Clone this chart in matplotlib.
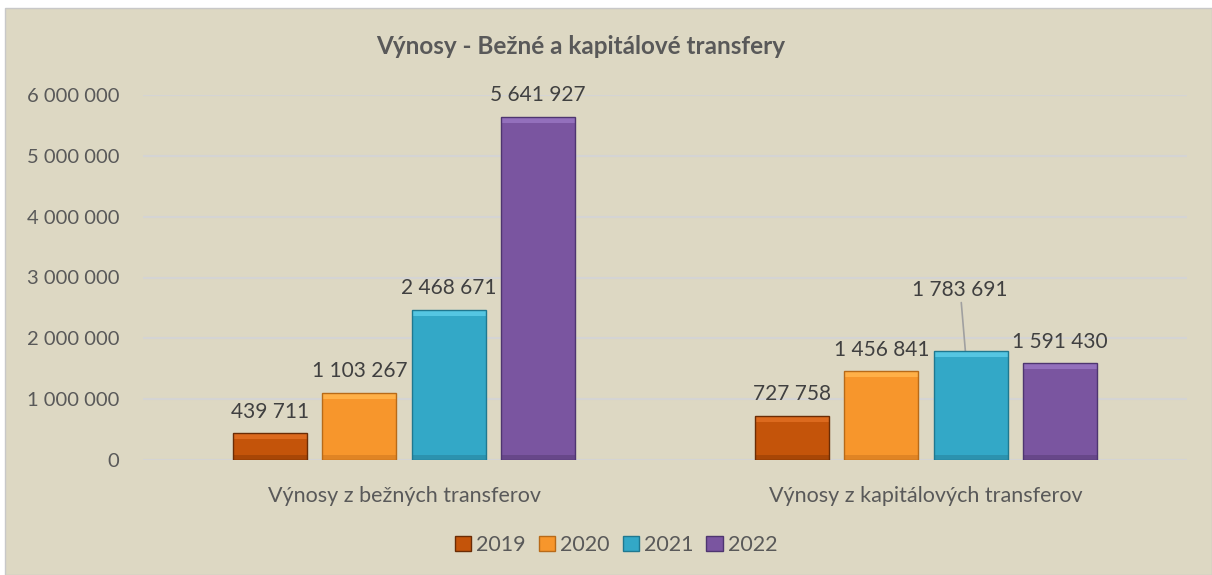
import matplotlib
matplotlib.use("Agg")
import matplotlib.pyplot as plt
import numpy as np
from matplotlib.patches import Rectangle

categories = ["Výnosy z bežných transferov", "Výnosy z kapitálových transferov"]
years = ["2019", "2020", "2021", "2022"]
values = {
    "2019": [439711, 727758],
    "2020": [1103267, 1456841],
    "2021": [2468671, 1783691],
    "2022": [5641927, 1591430],
}
yticks = [0, 1000000, 2000000, 3000000, 4000000, 5000000, 6000000]
title = "Výnosy - Bežné a kapitálové transfery"

colors = ["#C4540A", "#F7962C", "#33A8C7", "#7A55A0"]
lights = ["#DC6A1E", "#FFB048", "#55C6E2", "#9370BC"]
darks = ["#A84606", "#E08424", "#2C92AE", "#674789"]
edges = ["#6A2C05", "#B86A18", "#1F7890", "#4E3570"]
bg = "#DDD8C3"
txt = "#595959"

plt.rcParams['font.family'] = ['Lato', 'DejaVu Sans']

fig = plt.figure(figsize=(12.12, 5.75), dpi=100, facecolor="white")
fig.patches.append(Rectangle((5/1212, 0), 1 - 5/1212, 1 - 8/575, transform=fig.transFigure,
                             facecolor=bg, edgecolor="#C8C8C8", lw=1, zorder=-10))
ax = fig.add_axes([143/1212, 1 - 460/575, 1044/1212, (460 - 95)/575])
ax.patch.set_alpha(0)

def fmt(v):
    return f"{v:,}".replace(",", " ")

x = np.arange(len(categories))
bw = 0.142
step = 0.171
px = 6000000 / 365.0  # data units per pixel
for i, y in enumerate(years):
    pos = x + (i - 1.5) * step
    vals = np.array(values[y], dtype=float)
    ax.bar(pos, vals, width=bw, color=colors[i], edgecolor="none", zorder=3)
    top = np.minimum(6 * px, vals * 0.3)
    bot = np.minimum(5 * px, vals * 0.2)
    ax.bar(pos, top, bottom=vals - top, width=bw, color=lights[i], edgecolor="none", zorder=4)
    ax.bar(pos, bot, width=bw, color=darks[i], edgecolor="none", zorder=4)
    ax.bar(pos, vals, width=bw, fill=False, edgecolor=edges[i], linewidth=1.0, zorder=5)
    for j, (p, v) in enumerate(zip(pos, values[y])):
        if y == "2021" and j == 1:
            ax.annotate(fmt(v), xy=(p - 0.01, v), xytext=(p - 0.02, v + 850000),
                        ha="center", va="bottom", fontsize=15, color="#404040",
                        arrowprops=dict(arrowstyle="-", color="#A0A0A0", lw=1.2,
                                        shrinkA=0, shrinkB=0))
        else:
            ax.text(p, v + 190000, fmt(v), ha="center", va="bottom", fontsize=15, color="#404040")

ax.set_xlim(-0.5, 1.5)
ax.set_ylim(0, 6000000)
ax.set_yticks(yticks)
ax.set_yticklabels([fmt(v) for v in yticks], fontsize=14.5, color=txt)
ax.set_xticks(x)
ax.set_xticklabels(categories, fontsize=15.5, color=txt)
ax.tick_params(axis="y", length=0, pad=17)
ax.tick_params(axis="x", length=0, pad=19)
ax.yaxis.grid(True, color="#D4D4D4", lw=1.5, zorder=0)
ax.set_axisbelow(True)
for s in ax.spines.values():
    s.set_visible(False)

fig.text(581/1212, 1 - 46/575, title, ha="center", va="center", fontsize=17.5,
         fontweight="bold", color=txt)

handles = [Rectangle((0, 0), 1, 1, facecolor=c, edgecolor=e) for c, e in zip(colors, edges)]
fig.legend(handles, years, loc="center", bbox_to_anchor=(616/1212, 1 - 545/575), ncol=4,
           frameon=False, fontsize=15.5, handlelength=0.75, handleheight=0.75,
           handletextpad=0.25, columnspacing=0.6, labelcolor=txt)

fig.savefig("out.png", dpi=100, facecolor="white")
